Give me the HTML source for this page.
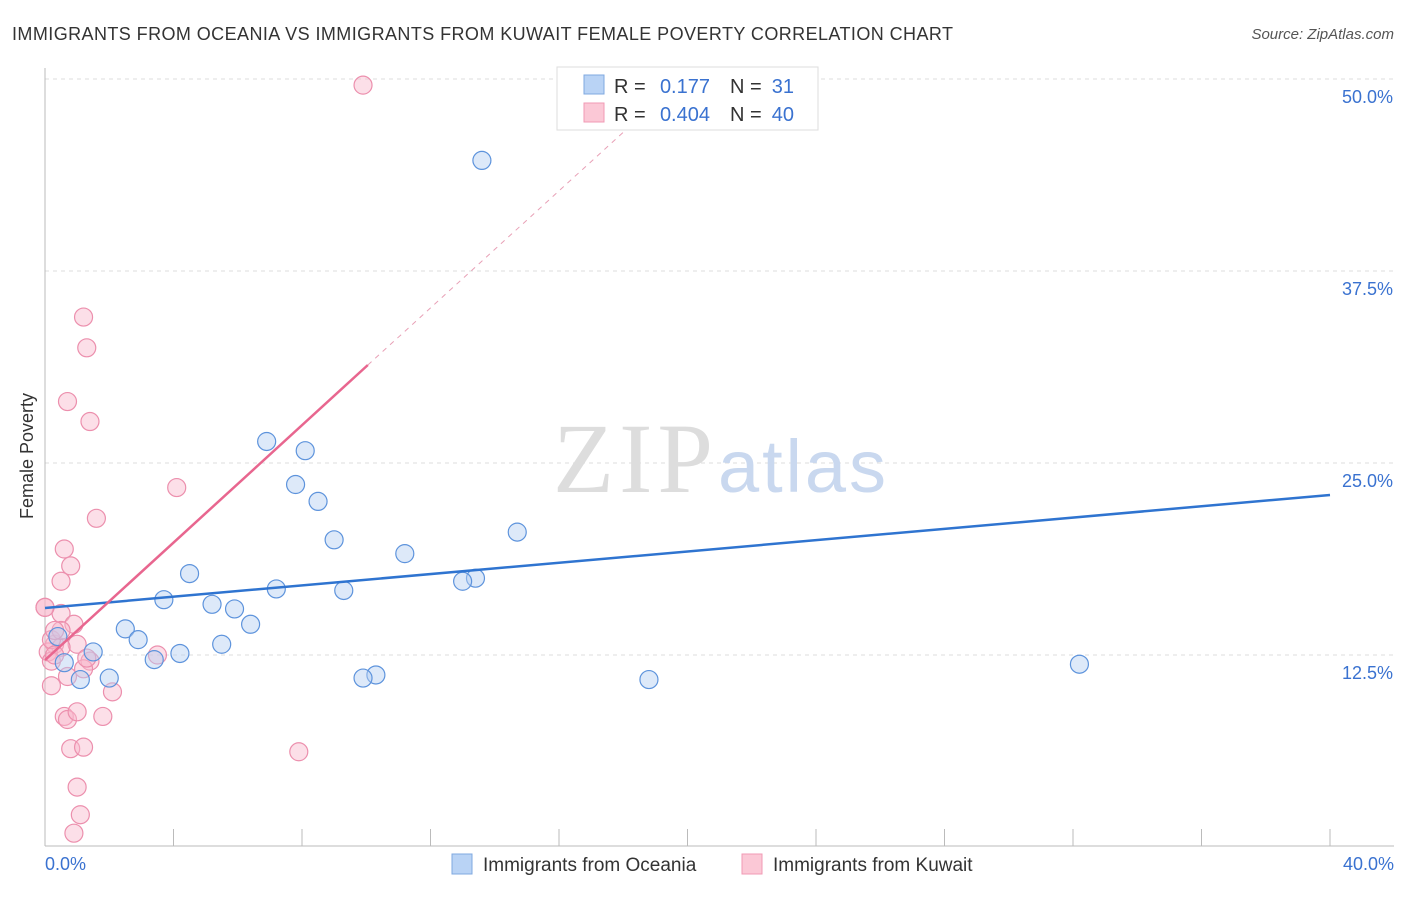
<!DOCTYPE html>
<html><head><meta charset="utf-8"><style>
body{margin:0;background:#fff;font-family:"Liberation Sans",sans-serif}
</style></head><body>
<svg id="c" width="1406" height="892" xmlns="http://www.w3.org/2000/svg" font-family="Liberation Sans, sans-serif">
<text x="12" y="40" font-size="18" fill="#333" textLength="941" lengthAdjust="spacing">IMMIGRANTS FROM OCEANIA VS IMMIGRANTS FROM KUWAIT FEMALE POVERTY CORRELATION CHART</text>
<text x="1394" y="39" font-size="15" fill="#555" font-style="italic" text-anchor="end">Source: ZipAtlas.com</text>
<text x="33" y="456" font-size="18" fill="#333" transform="rotate(-90 33 456)" text-anchor="middle">Female Poverty</text>
<g id="grid"></g>
<text x="553" y="492" font-size="100" fill="#ddd" font-family="Liberation Serif, serif" textLength="160">ZIP</text>
<text x="718" y="492" font-size="74" fill="#c9d8ef" textLength="168">atlas</text>
<g id="pts"></g>
<g id="lines"></g>
<g>
<rect x="557" y="67" width="261" height="63" fill="#fff" stroke="#ddd"/>
<rect x="584" y="75" width="20" height="19" fill="#b9d3f5" stroke="#7fa8e0"/>
<rect x="584" y="103" width="20" height="19" fill="#fbc8d6" stroke="#f09ab4"/>
<text x="614" y="93" font-size="20" fill="#333">R = </text><text x="710" y="93" font-size="20" fill="#3a72d0" text-anchor="end">0.177</text>
<text x="730" y="93" font-size="20" fill="#333">N = </text><text x="794" y="93" font-size="20" fill="#3a72d0" text-anchor="end">31</text>
<text x="614" y="121" font-size="20" fill="#333">R = </text><text x="710" y="121" font-size="20" fill="#3a72d0" text-anchor="end">0.404</text>
<text x="730" y="121" font-size="20" fill="#333">N = </text><text x="794" y="121" font-size="20" fill="#3a72d0" text-anchor="end">40</text>
</g>
<g>
<rect x="452" y="854" width="20" height="20" fill="#b9d3f5" stroke="#7fa8e0"/>
<text x="483" y="871" font-size="19" fill="#333">Immigrants from Oceania</text>
<rect x="742" y="854" width="20" height="20" fill="#fbc8d6" stroke="#f09ab4"/>
<text x="773" y="871" font-size="19" fill="#333">Immigrants from Kuwait</text>
</g>
</svg>
<script>
const yTicks=[12.5,25,37.5,50];
const yTickLabels=["12.5%","25.0%","37.5%","50.0%"];
const xTickLabels=["0.0%","40.0%"];
const blueX=[13.6,6.9,8.1,7.8,8.5,14.7,9.0,11.2,4.5,13.4,13.0,7.2,9.3,3.7,5.2,5.9,6.4,2.5,2.9,5.5,1.5,4.2,3.4,0.6,32.2,2.0,1.1,18.8,10.3,9.9,0.4];
const blueY=[44.7,26.4,25.8,23.6,22.5,20.5,20.0,19.1,17.8,17.5,17.3,16.8,16.7,16.1,15.8,15.5,14.5,14.2,13.5,13.2,12.7,12.6,12.2,12.0,11.9,11.0,10.9,10.9,11.2,11.0,13.7];
const pinkX=[9.9,1.2,1.3,0.7,1.4,4.1,1.6,0.6,0.8,0.5,0.0,0.5,0.9,1.0,0.3,0.5,0.1,1.4,1.2,3.5,0.2,0.7,0.2,2.1,0.6,0.7,1.0,1.8,0.8,1.2,7.9,1.0,1.1,0.9,0.2,0.3,0.5,1.3,0.0,0.3];
const pinkY=[49.6,34.5,32.5,29.0,27.7,23.4,21.4,19.4,18.3,17.3,15.6,15.2,14.5,13.2,13.2,13.0,12.7,12.1,11.6,12.5,12.1,11.1,10.5,10.1,8.5,8.3,8.8,8.5,6.4,6.5,6.2,3.9,2.1,0.9,13.5,12.5,14.1,12.3,15.6,14.1];
const blueTrend=[[0,15.56],[40,22.92]];
const pinkTrend=[[0,12.17],[10.05,31.38]];
const pinkDash=[[10.05,31.38],[18.3,47.1]];
const NS="http://www.w3.org/2000/svg";
const X=v=>45+v/40*1285, Y=v=>847-v/12.5*192;
function mk(t,a,p){const e=document.createElementNS(NS,t);for(const k in a)e.setAttribute(k,a[k]);p.appendChild(e);return e;}
const svg=document.getElementById('c'),grid=document.getElementById('grid'),pts=document.getElementById('pts'),lines=document.getElementById('lines');
yTicks.forEach((t,i)=>{
 const l=mk('line',{x1:45,x2:1394,y1:Y(t),y2:Y(t),stroke:'#ddd','stroke-dasharray':'4,4'},grid);
 
 
 const tx=mk('text',{x:1393,y:Y(t)+24,'font-size':18,fill:'#3a72d0','text-anchor':'end'},grid);
 tx.textContent=yTickLabels[i];
 
 
});
const ax=mk('line',{x1:45,x2:45,y1:68,y2:846,stroke:'#bbb'},grid);


const bx=mk('line',{x1:45,x2:1394,y1:846,y2:846,stroke:'#bbb'},grid);


for(let i=1;i<=10;i++){const tk=mk('line',{x1:X(i*4),x2:X(i*4),y1:829,y2:846,stroke:'#bbb'},grid);
 
 }
[[0,'start',45],[1,'end',1394]].forEach(([i,a,x])=>{const t=mk('text',{x:x,y:870,'font-size':18,fill:'#3a72d0','text-anchor':a},grid);t.textContent=xTickLabels[i];
 
 });
function dots(xs,ys,fill,stroke,name){xs.forEach((x,i)=>{const c=mk('circle',{cx:X(x),cy:Y(ys[i]),r:9,fill:fill,'fill-opacity':0.45,stroke:stroke,'stroke-width':1.2},pts);
 
 });}
dots(pinkX,pinkY,'#f9b9cc','#ec8fad','kuwait-point');
dots(blueX,blueY,'#b4cff2','#5d93dc','oceania-point');
function ln(d,s,w,dash,name){const l=mk('line',{x1:X(d[0][0]),y1:Y(d[0][1]),x2:X(d[1][0]),y2:Y(d[1][1]),stroke:s,'stroke-width':w},lines);if(dash)l.setAttribute('stroke-dasharray',dash);
 
 }
ln(blueTrend,'#2f74d0',2.5,null,'oceania-trendline');
ln(pinkTrend,'#e8668f',2.5,null,'kuwait-trendline');
ln(pinkDash,'#e8a0b6',1,'5,5','kuwait-trendline-extension');
</script>
</body></html>
